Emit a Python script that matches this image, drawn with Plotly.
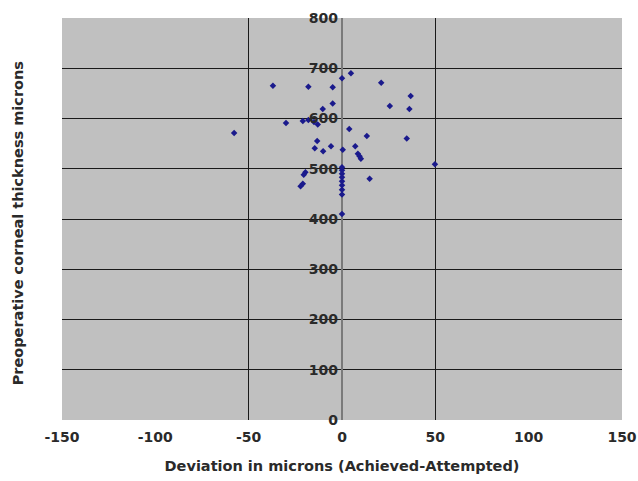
import plotly.graph_objects as go

deviation = [4.8, 0, 21, -37, -18, -5, 36.8, 25.6, 36.1, -5, -10.3,
             -30, -21, -18, -15, -13, -57.8, 3.9, 13.3, 34.7, -13.3,
             -14.6, -10.1, -5.9, 0.4, 7.1, 8.5, 9.4, 10.1, 49.8,
             -19.6, -20.5, -21, -22.2, 14.8,
             0, 0, 0, 0, 0, 0, 0, 0, 0]
thickness = [690, 680, 671, 665, 663, 662, 645, 625, 619, 630, 619,
             591, 595, 597, 593, 588, 571, 579, 565, 560, 555,
             541, 535, 545, 538, 545, 530, 525, 520, 509,
             493, 488, 470, 465, 480,
             503, 497, 490, 483, 475, 467, 458, 449, 410]

x_ticks = [-150, -100, -50, 0, 50, 100, 150]
x_tick_text = ["-150", "-100", "-50", "0", "50", "100", "150"]
x_grid = [-50, 50]
y_ticks = [0, 100, 200, 300, 400, 500, 600, 700, 800]

font = dict(family="DejaVu Sans, sans-serif", size=14.5, color="#2a2a2a", weight="bold")
tick_font = dict(family="DejaVu Sans, sans-serif", size=14, color="#2a2a2a", weight="bold")

fig = go.Figure()
fig.add_trace(go.Scatter(
    x=deviation, y=thickness, mode="markers",
    marker=dict(symbol="diamond", size=5, color="#1a1a8c"),
    showlegend=False, cliponaxis=False,
))

fig.update_layout(
    width=638, height=481,
    margin=dict(l=62, r=16, t=18, b=61, autoexpand=False),
    paper_bgcolor="white",
    plot_bgcolor="#c0c0c0",
    font=font,
    xaxis=dict(
        range=[-150, 150], tickvals=x_ticks, ticktext=x_tick_text, showgrid=False,
        zeroline=True, zerolinecolor="#7a7a7a", zerolinewidth=2,
        showline=False, ticks="", ticklen=0, automargin=False,
        ticklabelstandoff=7, tickfont=tick_font,
        title=dict(text="Deviation in microns (Achieved-Attempted)", font=font, standoff=16),
        minor=dict(tickvals=x_grid, showgrid=True, gridcolor="#1a1a1a", gridwidth=1),
    ),
    yaxis=dict(
        range=[0, 800], tickvals=y_ticks, showgrid=True,
        gridcolor="#1a1a1a", gridwidth=1, automargin=False,
        zeroline=False, anchor="free", position=0.5,
        showline=False, ticks="", ticklabelstandoff=4, tickfont=tick_font,
    ),
    annotations=[dict(
        text="Preoperative corneal thickness microns",
        xref="paper", yref="paper", x=-0.078, y=0.49,
        textangle=-90, showarrow=False, font=font,
        xanchor="center", yanchor="middle",
    )],
)

fig.write_html("out.html", config={"displayModeBar": False},
               post_script="document.body.style.margin='0';")
